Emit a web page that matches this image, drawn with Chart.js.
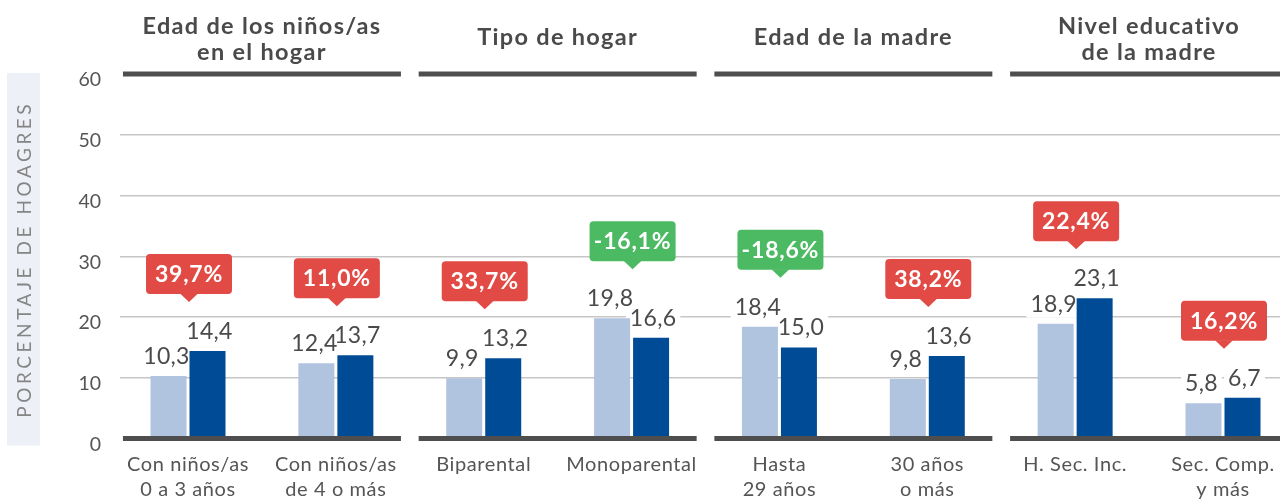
<!DOCTYPE html>
<html><head><meta charset="utf-8">
<script src="https://cdn.jsdelivr.net/npm/chart.js@4.4.1/dist/chart.umd.min.js"></script>
<style>html,body{margin:0;padding:0;background:#fff;overflow:hidden}</style>
</head><body>
<canvas id="c" width="1280" height="499"></canvas>
<script>
// ---- data ----
const categories = [["Con niños/as","0 a 3 años"],["Con niños/as","de 4 o más"],["Biparental"],["Monoparental"],["Hasta","29 años"],["30 años","o más"],["H. Sec. Inc."],["Sec. Comp.","y más"]];
const seriesBefore = [10.3,12.4,9.9,19.8,18.4,9.8,18.9,5.8];
const seriesAfter  = [14.4,13.7,13.2,16.6,15.0,13.6,23.1,6.7];
const changePct    = [39.7,11.0,33.7,-16.1,-18.6,38.2,22.4,16.2];
const groupTitles  = [["Edad de los niños/as","en el hogar"],["Tipo de hogar"],["Edad de la madre"],["Nivel educativo","de la madre"]];
const groupMembers = [[0,1],[2,3],[4,5],[6,7]];
const yTickValues  = [0,10,20,30,40,50,60];
const yTitle = "PORCENTAJE DE HOAGRES";

// ---- style ----
const FONT = "Lato, 'Open Sans', sans-serif";
const C_LIGHT = '#b0c3df', C_DARK = '#004b96', C_LINE = '#4e4e4f', C_TEXT = '#4a4a4a';
const C_RED = '#e24b45', C_GREEN = '#4cb963';
const fmt = v => v.toFixed(1).replace('.', ',');

function labelPos(bar, di){
  return { x: bar.x + (di === 0 ? -2 : 2), y: bar.y - 12 };
}

const decor = {
  id: 'decor',
  beforeDraw(chart){
    const ctx = chart.ctx;
    const ys = chart.scales.y;
    ctx.save();
    const top = ys.getPixelForValue(60) - 1, bot = ys.bottom + 7;
    ctx.fillStyle = '#eef0f8';
    ctx.fillRect(7, top, 33, bot - top);
    ctx.translate(24, (top + bot) / 2);
    ctx.rotate(-Math.PI/2);
    ctx.font = `19px ${FONT}`;
    ctx.fillStyle = '#858585';
    ctx.textAlign = 'center';
    ctx.textBaseline = 'middle';
    const target = 317;
    const w0 = ctx.measureText(yTitle).width;
    ctx.letterSpacing = ((target - w0) / yTitle.length).toFixed(2) + 'px';
    ctx.fillText(yTitle, 0, 1);
    ctx.restore();
  },
  beforeDatasetsDraw(chart){
    const ctx = chart.ctx;
    ctx.save();
    ctx.font = `23px ${FONT}`;
    ctx.letterSpacing = '0.3px';
    chart.data.datasets.forEach((ds, di) => {
      chart.getDatasetMeta(di).data.forEach((bar, i) => {
        const t = fmt(ds.data[i].y);
        const w = ctx.measureText(t).width;
        const p = labelPos(bar, di);
        ctx.fillStyle = '#fff';
        ctx.fillRect(p.x - w/2 - 4, p.y - 20, w + 8, 26);
      });
    });
    ctx.restore();
  },
  afterDatasetsDraw(chart){
    const ctx = chart.ctx;
    const xs = chart.scales.x, ys = chart.scales.y, ca = chart.chartArea;
    ctx.save();
    ctx.textAlign = 'center';
    ctx.textBaseline = 'alphabetic';
    // value labels
    ctx.font = `23px ${FONT}`;
    ctx.letterSpacing = '0.3px';
    ctx.fillStyle = C_TEXT;
    chart.data.datasets.forEach((ds, di) => {
      chart.getDatasetMeta(di).data.forEach((bar, i) => {
        const p = labelPos(bar, di);
        ctx.fillText(fmt(ds.data[i].y), p.x, p.y);
      });
    });
    // category labels
    ctx.font = `20px ${FONT}`;
    ctx.fillStyle = '#555';
    ctx.letterSpacing = '0.6px';
    const yb = ys.getPixelForValue(0);
    categories.forEach((lines, i) => {
      const cx = xs.getPixelForValue(i);
      lines.forEach((t, k) => ctx.fillText(t, cx, yb + 32 + k * 25.5));
    });
    // group lines + titles
    const yTop = ys.getPixelForValue(60), yBot = ys.getPixelForValue(0);
    groupMembers.forEach((m, g) => {
      const a = xs.getPixelForValue(m[0] - 0.44), b = xs.getPixelForValue(m[m.length-1] + 0.44);
      const x0 = Math.max(ca.left, a), x1 = Math.min(ca.right, b);
      ctx.fillStyle = C_LINE;
      ctx.fillRect(x0, yTop - 2.5, x1 - x0, 5);
      ctx.fillRect(x0, yBot - 2.5, x1 - x0, 5);
      const cx = (a + b) / 2;
      ctx.font = `bold 23.5px ${FONT}`;
      ctx.letterSpacing = '1.3px';
      ctx.fillStyle = C_TEXT;
      const lines = groupTitles[g];
      if (lines.length === 2) {
        ctx.fillText(lines[0], cx, yTop - 40);
        ctx.fillText(lines[1], cx, yTop - 14);
      } else {
        ctx.fillText(lines[0], cx, yTop - 29);
      }
    });
    ctx.restore();
  },
  afterDraw(chart){
    const ctx = chart.ctx;
    const xs = chart.scales.x, ys = chart.scales.y;
    ctx.save();
    changePct.forEach((v, i) => {
      const maxV = Math.max(seriesBefore[i], seriesAfter[i]);
      const cx = xs.getPixelForValue(i) + 1;
      const tip = ys.getPixelForValue(maxV) - 49;
      const W = 86, H = 40, PH = 8, PW = 9, R = 4;
      const bx = cx - W/2, by = tip - PH - H;
      ctx.fillStyle = v < 0 ? C_GREEN : C_RED;
      ctx.beginPath();
      ctx.roundRect(bx, by, W, H, R);
      ctx.fill();
      ctx.beginPath();
      ctx.moveTo(cx - PW, by + H - 0.5);
      ctx.lineTo(cx + PW, by + H - 0.5);
      ctx.lineTo(cx, tip);
      ctx.closePath();
      ctx.fill();
      ctx.fillStyle = '#fff';
      ctx.font = `bold 23px ${FONT}`;
      ctx.letterSpacing = '0.8px';
      ctx.textAlign = 'center';
      ctx.textBaseline = 'alphabetic';
      ctx.fillText(fmt(v) + '%', cx, by + 28);
    });
    ctx.restore();
  }
};

const chart = new Chart(document.getElementById('c'), {
  type: 'bar',
  data: {
    datasets: [
      { label: 'Serie 1', data: seriesBefore.map((v, i) => ({x: i, y: v})), backgroundColor: C_LIGHT },
      { label: 'Serie 2', data: seriesAfter.map((v, i) => ({x: i, y: v})),  backgroundColor: C_DARK }
    ]
  },
  options: {
    responsive: false,
    animation: false,
    events: [],
    categoryPercentage: 0.5275,
    barPercentage: 0.923,
    layout: { padding: { top: 74, left: 0, right: 0, bottom: 0 } },
    plugins: { legend: { display: false }, tooltip: { enabled: false } },
    scales: {
      x: {
        type: 'linear',
        offset: false,
        min: -0.46, max: 7.3855,
        grid: { display: false, drawTicks: false },
        border: { display: false },
        afterBuildTicks: s => { s.ticks = categories.map((_, i) => ({ value: i })); },
        afterFit: s => { s.height = 60.5; },
        ticks: { display: false }
      },
      y: {
        min: 0, max: 60,
        afterBuildTicks: s => { s.ticks = yTickValues.map(v => ({ value: v })); },
        afterFit: s => { s.width = 120; },
        grid: { drawTicks: false, color: c => (c.tick && (c.tick.value === 0 || c.tick.value === 60)) ? 'rgba(0,0,0,0)' : '#c6c6c6', lineWidth: 1.5 },
        border: { display: false },
        ticks: { padding: 19, labelOffset: 6, color: '#555', font: { family: FONT, size: 19.5 } }
      }
    }
  },
  plugins: [decor]
});
</script>
</body></html>
